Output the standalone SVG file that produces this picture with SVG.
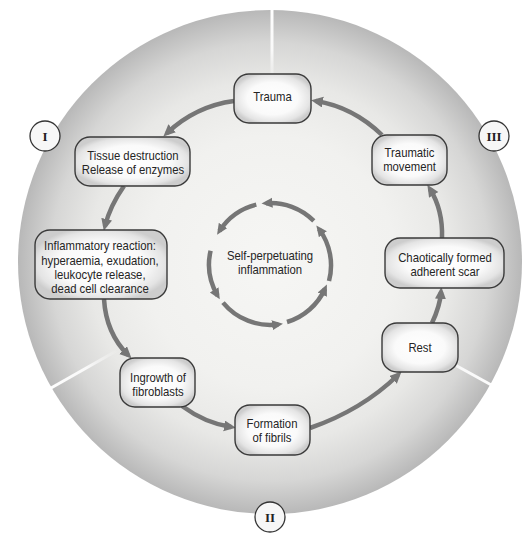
<svg xmlns="http://www.w3.org/2000/svg" width="525" height="536" viewBox="0 0 525 536">
<defs>
<radialGradient id="bg" cx="270" cy="262" r="252" gradientUnits="userSpaceOnUse">
<stop offset="0" stop-color="#f6f6f4"/>
<stop offset="0.5" stop-color="#f1f1ef"/>
<stop offset="0.72" stop-color="#e8e8e6"/>
<stop offset="0.87" stop-color="#d6d6d5"/>
<stop offset="1" stop-color="#b8b8b8"/>
</radialGradient>
<radialGradient id="boxfill" cx="0.5" cy="0.5" r="0.55">
<stop offset="0" stop-color="#ffffff"/>
<stop offset="0.6" stop-color="#fafafa"/>
<stop offset="0.88" stop-color="#e4e4e4"/>
<stop offset="1" stop-color="#cdcdcd"/>
</radialGradient>
<linearGradient id="l1" gradientUnits="userSpaceOnUse" x1="272" y1="8" x2="272" y2="85">
<stop offset="0" stop-color="#fff" stop-opacity="1"/>
<stop offset="0.55" stop-color="#fff" stop-opacity="0.85"/>
<stop offset="1" stop-color="#fff" stop-opacity="0"/>
</linearGradient>
<linearGradient id="l2" gradientUnits="userSpaceOnUse" x1="48" y1="390" x2="118" y2="350">
<stop offset="0" stop-color="#fff" stop-opacity="1"/>
<stop offset="0.55" stop-color="#fff" stop-opacity="0.85"/>
<stop offset="1" stop-color="#fff" stop-opacity="0"/>
</linearGradient>
<linearGradient id="l3" gradientUnits="userSpaceOnUse" x1="500" y1="390" x2="428" y2="350">
<stop offset="0" stop-color="#fff" stop-opacity="1"/>
<stop offset="0.55" stop-color="#fff" stop-opacity="0.85"/>
<stop offset="1" stop-color="#fff" stop-opacity="0"/>
</linearGradient>
<marker id="ah" markerUnits="userSpaceOnUse" markerWidth="13" markerHeight="12" refX="7" refY="5.5" orient="auto">
<path d="M0,0 L12,5.5 L0,11 z" fill="#767676"/>
</marker>
<marker id="ahs" markerUnits="userSpaceOnUse" markerWidth="12" markerHeight="11" refX="6.5" refY="5" orient="auto">
<path d="M0,0 L11,5 L0,10 z" fill="#767676"/>
</marker>
<style>
.box{fill:url(#boxfill);stroke:#3a3a3a;stroke-width:1.4}
.t{font-family:"Liberation Sans",Arial,sans-serif;font-size:13px;fill:#252525;text-anchor:middle}
.conn{fill:none;stroke:#767676;stroke-width:4.5;marker-end:url(#ah)}
.inner{fill:none;stroke:#767676;stroke-width:4.5;marker-end:url(#ahs)}
.num{fill:#f7f7f7;stroke:#333;stroke-width:1.3}
.nt{font-family:"Liberation Serif",serif;font-size:13px;font-weight:bold;fill:#222;text-anchor:middle}
.div{fill:none;stroke-width:3}
</style>
</defs>
<rect width="525" height="536" fill="#ffffff"/>
<g id="background">
<circle cx="270" cy="262" r="252" fill="url(#bg)"/>
<line class="div" x1="272" y1="6" x2="272" y2="85" stroke="url(#l1)"/>
<line class="div" x1="44" y1="392" x2="118" y2="350" stroke="url(#l2)"/>
<line class="div" x1="504" y1="392" x2="428" y2="350" stroke="url(#l3)"/>
</g>
<g id="connectors">
<path class="conn" d="M234,101 Q196,106 167,133"/>
<path class="conn" d="M124,186 Q110,206 105,226"/>
<path class="conn" d="M104,299 Q106,333 128,355"/>
<path class="conn" d="M182,406 Q205,423 231,427"/>
<path class="conn" d="M310,428 Q362,410 398,375"/>
<path class="conn" d="M432,323 Q440,306 441,292"/>
<path class="conn" d="M442,238 Q443,210 430,189"/>
<path class="conn" d="M382,135 Q353,107 316,101"/>
</g>
<g id="cycle">
<path class="inner" d="M313.8,220.9 A61,61 0 0 0 266,203.2"/>
<path class="inner" d="M256.3,204.6 A61,61 0 0 0 219.5,231"/>
<path class="inner" d="M210.6,250.7 A61,61 0 0 0 217.5,295.5"/>
<path class="inner" d="M223,302.6 A61,61 0 0 0 278.5,324.3"/>
<path class="inner" d="M287,322 A61,61 0 0 0 325,288.7"/>
<path class="inner" d="M329,281 A61,61 0 0 0 319,229"/>
<text class="t" transform="translate(270,259.5) scale(0.87,1)">Self-perpetuating</text>
<text class="t" transform="translate(270,273.5) scale(0.87,1)">inflammation</text>
</g>
<g id="trauma">
<rect class="box" x="234" y="74" width="77" height="49" rx="15"/>
<text class="t" transform="translate(272.5,101) scale(0.87,1)">Trauma</text>
</g>
<g id="tissue">
<rect class="box" x="75" y="137" width="115" height="49" rx="15"/>
<text class="t" transform="translate(133,159.5) scale(0.87,1)">Tissue destruction</text>
<text class="t" transform="translate(133,173.5) scale(0.87,1)">Release of enzymes</text>
</g>
<g id="inflammatory">
<rect class="box" x="35" y="230" width="132" height="69" rx="15"/>
<text class="t" transform="translate(100,250) scale(0.87,1)">Inflammatory reaction:</text>
<text class="t" transform="translate(100,264.5) scale(0.87,1)">hyperaemia, exudation,</text>
<text class="t" transform="translate(100,279) scale(0.87,1)">leukocyte release,</text>
<text class="t" transform="translate(100,293) scale(0.87,1)">dead cell clearance</text>
</g>
<g id="ingrowth">
<rect class="box" x="120" y="358" width="75" height="49" rx="15"/>
<text class="t" transform="translate(158,381.5) scale(0.87,1)">Ingrowth of</text>
<text class="t" transform="translate(158,395.5) scale(0.87,1)">fibroblasts</text>
</g>
<g id="formation">
<rect class="box" x="235" y="405" width="75" height="50" rx="15"/>
<text class="t" transform="translate(272,427.5) scale(0.87,1)">Formation</text>
<text class="t" transform="translate(272,441.5) scale(0.87,1)">of fibrils</text>
</g>
<g id="rest">
<rect class="box" x="382" y="323" width="76" height="49" rx="15"/>
<text class="t" transform="translate(420,352) scale(0.87,1)">Rest</text>
</g>
<g id="chaotic">
<rect class="box" x="385" y="238" width="119" height="50" rx="15"/>
<text class="t" transform="translate(445,261.5) scale(0.87,1)">Chaotically formed</text>
<text class="t" transform="translate(445,275.5) scale(0.87,1)">adherent scar</text>
</g>
<g id="traumatic">
<rect class="box" x="372" y="135" width="75" height="50" rx="15"/>
<text class="t" transform="translate(409.5,157) scale(0.87,1)">Traumatic</text>
<text class="t" transform="translate(409.5,171) scale(0.87,1)">movement</text>
</g>
<g id="phase-I">
<circle class="num" cx="45" cy="136" r="15"/>
<text class="nt" x="45" y="140.5">I</text>
</g>
<g id="phase-II">
<circle class="num" cx="270" cy="517" r="15"/>
<text class="nt" x="270" y="521.5">II</text>
</g>
<g id="phase-III">
<circle class="num" cx="494" cy="136" r="15"/>
<text class="nt" x="494" y="140.5">III</text>
</g>
</svg>
